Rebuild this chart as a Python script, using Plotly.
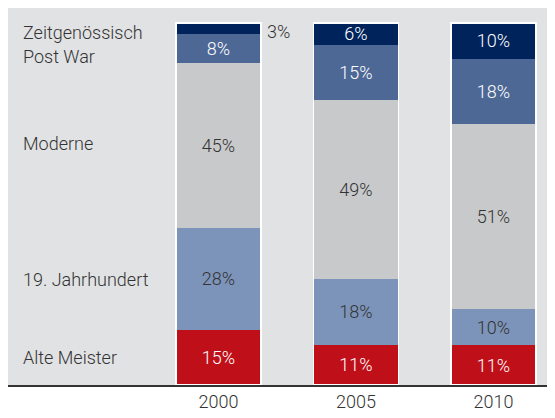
import plotly.graph_objects as go

years = ["2000", "2005", "2010"]
series = ["Alte Meister", "19. Jahrhundert", "Moderne", "Post War", "Zeitgenössisch"]
alte_meister = [15, 11, 11]
jahrhundert_19 = [28, 18, 10]
moderne = [45, 49, 51]
post_war = [8, 15, 18]
zeitgenoessisch = [3, 6, 10]

values = [alte_meister, jahrhundert_19, moderne, post_war, zeitgenoessisch]
colors = ["#bf1019", "#7d94ba", "#c8c9cb", "#4e6896", "#00235b"]
text_colors = ["white", "#333333", "#333333", "white", "white"]

FONT = "Roboto, sans-serif"
FS = 18
FW = 300
xpos = list(range(len(years)))
totals = [sum(v[i] for v in values) for i in xpos]
BW = 0.604

fig = go.Figure()
for name, vals, col, tc in zip(series, values, colors, text_colors):
    share = [v / t * 100 for v, t in zip(vals, totals)]
    # segments too small to hold a label get it outside (see annotation)
    txt = [f"{v}%" if v >= 5 else "" for v in vals]
    fig.add_trace(go.Bar(
        x=xpos, y=share, name=name, width=BW,
        marker=dict(color=col, line=dict(width=0)),
        text=txt, textposition="inside", insidetextanchor="middle",
        constraintext="none",
        textfont=dict(family=FONT, size=FS, color=tc, weight=FW),
        hoverinfo="skip", showlegend=False))

# white outline around each whole bar
fig.add_trace(go.Bar(
    x=xpos, y=[100] * len(xpos), width=BW + 0.012, xaxis="x2", yaxis="y2",
    marker=dict(color="rgba(0,0,0,0)", line=dict(color="white", width=1.5)),
    hoverinfo="skip", showlegend=False))

xr = [-1.5309, 2.4473]
yr = [0, 104.1]
fig.update_layout(
    barmode="stack",
    width=547, height=410,
    margin=dict(l=0, r=0, t=0, b=33, pad=0),
    paper_bgcolor="white",
    plot_bgcolor="#e1e2e4",
    font=dict(family=FONT, size=FS, color="#333333", weight=FW),
    xaxis=dict(range=xr, tickmode="array", tickvals=xpos, ticktext=years,
               showgrid=False, zeroline=False, showline=True,
               linecolor="#333333", linewidth=1.5, ticks="",
               tickfont=dict(family=FONT, size=FS, color="#333333", weight=FW)),
    yaxis=dict(range=yr, showgrid=False, zeroline=False, showticklabels=False),
    xaxis2=dict(range=xr, overlaying="x", visible=False),
    yaxis2=dict(range=yr, overlaying="y", visible=False),
)

# category labels on the left
label_y = [7.7, 29.0, 66.6, 90.6, 97.2]
for name, ly in zip(series, label_y):
    fig.add_annotation(text=name, xref="paper", yref="y", x=0.0238, y=ly,
                       xanchor="left", yanchor="middle", showarrow=False,
                       font=dict(family=FONT, size=FS, color="#333333", weight=FW))

# small top segment of 2000 labelled outside the bar
top_mid = (totals[0] - zeitgenoessisch[0] / 2) / totals[0] * 100
fig.add_annotation(text=f"{zeitgenoessisch[0]}%", xref="x", yref="y",
                   x=xpos[0] + BW / 2, y=top_mid - 1.0, xshift=5,
                   xanchor="left", yanchor="middle", showarrow=False,
                   font=dict(family=FONT, size=FS, color="#333333", weight=FW))

fig.write_html("out.html")
